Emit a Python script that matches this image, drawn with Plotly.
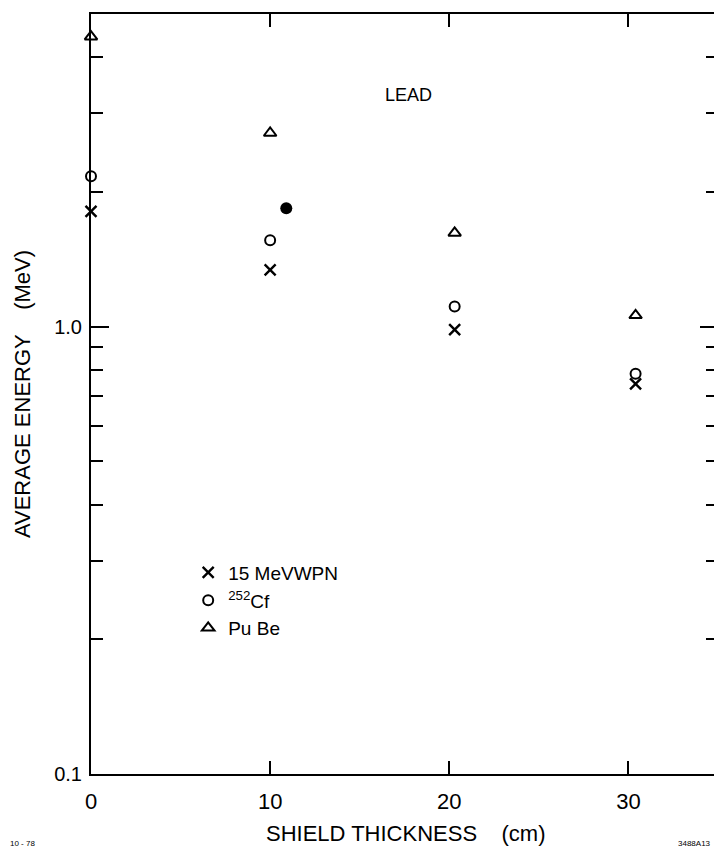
import plotly.graph_objects as go

# shield thickness (cm) and average neutron energy (MeV)
thickness = [0, 10, 20.3, 30.4]
wpn_energy = [1.81, 1.34, 0.985, 0.745]
cf_energy = [2.17, 1.56, 1.11, 0.785]
pube_energy = [4.45, 2.71, 1.62, 1.06]

# single filled point next to the 10 cm group
solid_x = [10.9]
solid_y = [1.84]

y_major = [0.1, 1.0]
y_major_text = ["0.1", "1.0"]
y_minor = [0.2, 0.3, 0.4, 0.5, 0.6, 0.7, 0.8, 0.9, 2, 3, 4]
x_ticks = [0, 10, 20, 30]

FONT = "Liberation Sans, Arial, sans-serif"
INK = "black"

fig = go.Figure()
fig.add_trace(go.Scatter(
    x=thickness, y=wpn_energy, mode="markers", name="15 MeVWPN", cliponaxis=False,
    marker=dict(symbol="x-thin-open", size=11, color=INK, line=dict(color=INK, width=2.4)),
))
fig.add_trace(go.Scatter(
    x=thickness, y=cf_energy, mode="markers", name="<sup>252</sup>Cf", cliponaxis=False,
    marker=dict(symbol="circle-open", size=10, color=INK, line=dict(color=INK, width=2)),
))
# Pu Be sits on the twin top axis so that its ticks get drawn along the top edge
fig.add_trace(go.Scatter(
    x=thickness, y=pube_energy, mode="markers", name="Pu Be", cliponaxis=False,
    xaxis="x2",
    marker=dict(symbol="triangle-up-open", size=11, color=INK, line=dict(color=INK, width=2)),
))
fig.add_trace(go.Scatter(
    x=solid_x, y=solid_y, mode="markers", showlegend=False, cliponaxis=False,
    marker=dict(symbol="circle", size=12, color=INK),
))

tick_style = dict(ticks="inside", tickwidth=1.6, tickcolor=INK)

# the page sits 8 px in from the window corner, so size the figure to fit
fig.update_layout(
    width=714, height=841,
    margin=dict(l=83, r=2, t=6, b=75),
    paper_bgcolor="white", plot_bgcolor="white",
    font=dict(family=FONT, color=INK, size=18),
    legend=dict(x=0.155, y=0.290, xanchor="left", yanchor="top",
                bgcolor="rgba(0,0,0,0)", font=dict(size=19), tracegroupgap=2,
                itemwidth=30),
    xaxis=dict(
        range=[0, 35], showgrid=False, zeroline=False,
        showline=True, linecolor=INK, linewidth=2, mirror=True,
        tickmode="array", tickvals=x_ticks, ticklen=13, **tick_style,
        tickfont=dict(size=22), ticklabelstandoff=7,
    ),
    xaxis2=dict(
        range=[0, 35], overlaying="x", side="top", showgrid=False,
        zeroline=False, showline=False, showticklabels=False,
        tickmode="array", tickvals=x_ticks[1:], ticklen=13, **tick_style,
    ),
    yaxis=dict(
        type="log", range=[-1, 0.699], showgrid=False, zeroline=False,
        showline=True, linecolor=INK, linewidth=2, mirror="ticks",
        tickmode="array", tickvals=y_major, ticktext=y_major_text,
        ticklen=18, **tick_style,
        tickfont=dict(size=20), ticklabelstandoff=3,
        minor=dict(tickmode="array", tickvals=y_minor, ticklen=12,
                   showgrid=False, **tick_style),
    ),
)

fig.add_annotation(text="AVERAGE ENERGY\u00a0\u00a0\u00a0\u00a0(MeV)", xref="paper", yref="paper",
                   x=-0.11, y=0.5, textangle=-90, showarrow=False,
                   font=dict(size=22), xanchor="center", yanchor="middle")
fig.add_annotation(text="SHIELD THICKNESS\u00a0\u00a0\u00a0\u00a0(cm)", xref="paper", yref="paper",
                   x=0.503, y=-0.078, showarrow=False, font=dict(size=22),
                   xanchor="center", yanchor="middle")
fig.add_annotation(text="LEAD", xref="paper", yref="paper", x=0.5056, y=0.893,
                   showarrow=False, font=dict(size=18), xanchor="center", yanchor="middle")
fig.add_annotation(text="10 - 78", xref="paper", yref="paper", x=-0.11, y=-0.0908,
                   showarrow=False, font=dict(size=8), xanchor="center", yanchor="middle")
fig.add_annotation(text="3488A13", xref="paper", yref="paper", x=0.963, y=-0.0908,
                   showarrow=False, font=dict(size=8), xanchor="center", yanchor="middle")

fig.write_html("out.html")
